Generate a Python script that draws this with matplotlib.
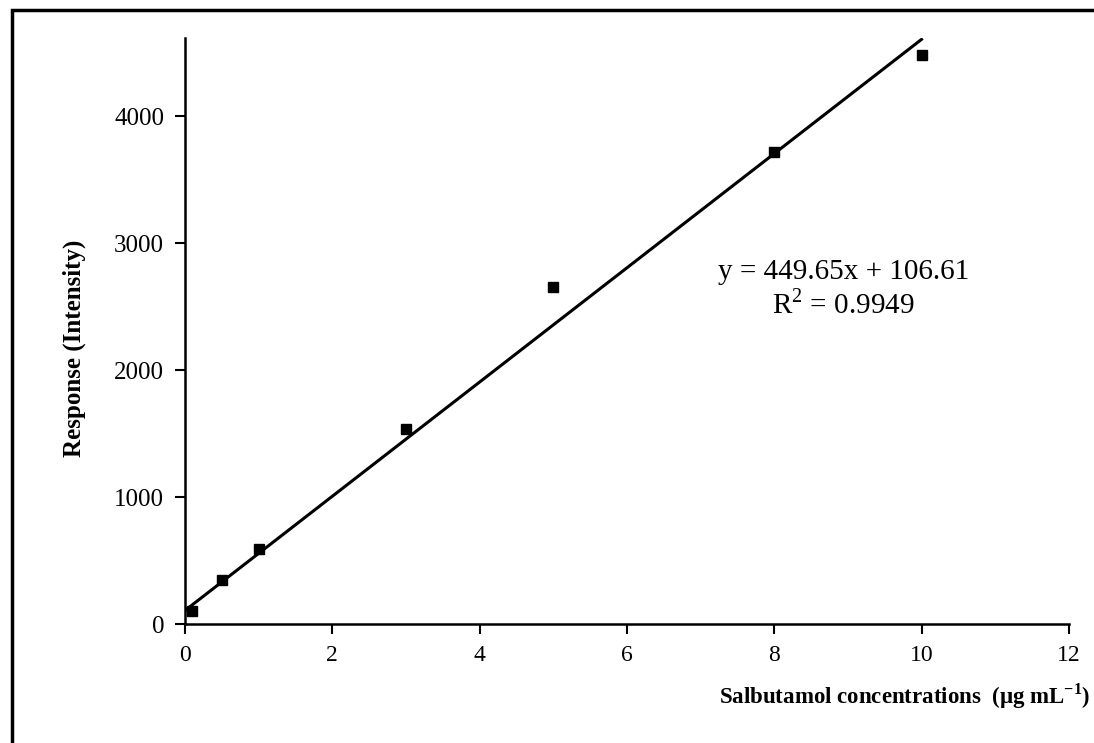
import matplotlib.pyplot as plt
from matplotlib.patches import Rectangle
import numpy as np

conc = [0.1, 0.5, 1.0, 3.0, 5.0, 8.0, 10.0]
response = [105, 345, 590, 1535, 2655, 3720, 4480]

# Trendlinie laut Gleichung
slope = 449.65
intercept = 106.61
r2 = 0.9949

plt.rcParams['font.family'] = ['Liberation Serif', 'DejaVu Serif']
plt.rcParams['mathtext.fontset'] = 'custom'
plt.rcParams['mathtext.rm'] = 'Liberation Serif'
plt.rcParams['mathtext.bf'] = 'Liberation Serif:bold'

fig = plt.figure(figsize=(10.94, 7.43), dpi=100)
ax = fig.add_axes([0.169, 0.160, 0.808, 0.789])

# Rahmen um die ganze Abbildung
fig.patches.append(Rectangle((12 / 1094, -0.02), 1.05, 1 - 10 / 743 + 0.02,
                             transform=fig.transFigure, fill=False,
                             edgecolor='black', linewidth=2.5, zorder=0))

xfit = np.array([0, max(conc)])
ax.plot(xfit, slope * xfit + intercept, color='black', linewidth=2.2, zorder=2)
ax.plot(conc, response, 's', color='black', markersize=7, zorder=3)

ax.set_xlim(0, 12)
ax.set_ylim(0, 4615)
ax.set_xticks(range(0, 13, 2))
ax.set_yticks([0, 1000, 2000, 3000, 4000])
ax.tick_params(width=1.5, length=7, direction='out', pad=8)
ax.tick_params(axis='x', labelsize=17)
ax.tick_params(axis='y', labelsize=18)

for side in ['top', 'right']:
    ax.spines[side].set_visible(False)
for side in ['left', 'bottom']:
    ax.spines[side].set_linewidth(1.8)

ax.set_ylabel('Response (Intensity)', fontsize=18, fontweight='bold')
ax.yaxis.set_label_coords(-0.112, 0.47)
ax.set_xlabel('Salbutamol concentrations  (\u03bcg mL$^{\\mathbf{-1}}$)',
              fontsize=16.5, fontweight='bold', ha='right')
ax.xaxis.set_label_coords(1.024, -0.098)

ax.text(0.745, 0.60, f'y = {slope}x + {intercept}', transform=ax.transAxes,
        fontsize=21, ha='center', va='center')
ax.text(0.745, 0.545, f'R$^2$ = {r2}', transform=ax.transAxes,
        fontsize=21, ha='center', va='center')

plt.savefig('out.png', dpi=100)
